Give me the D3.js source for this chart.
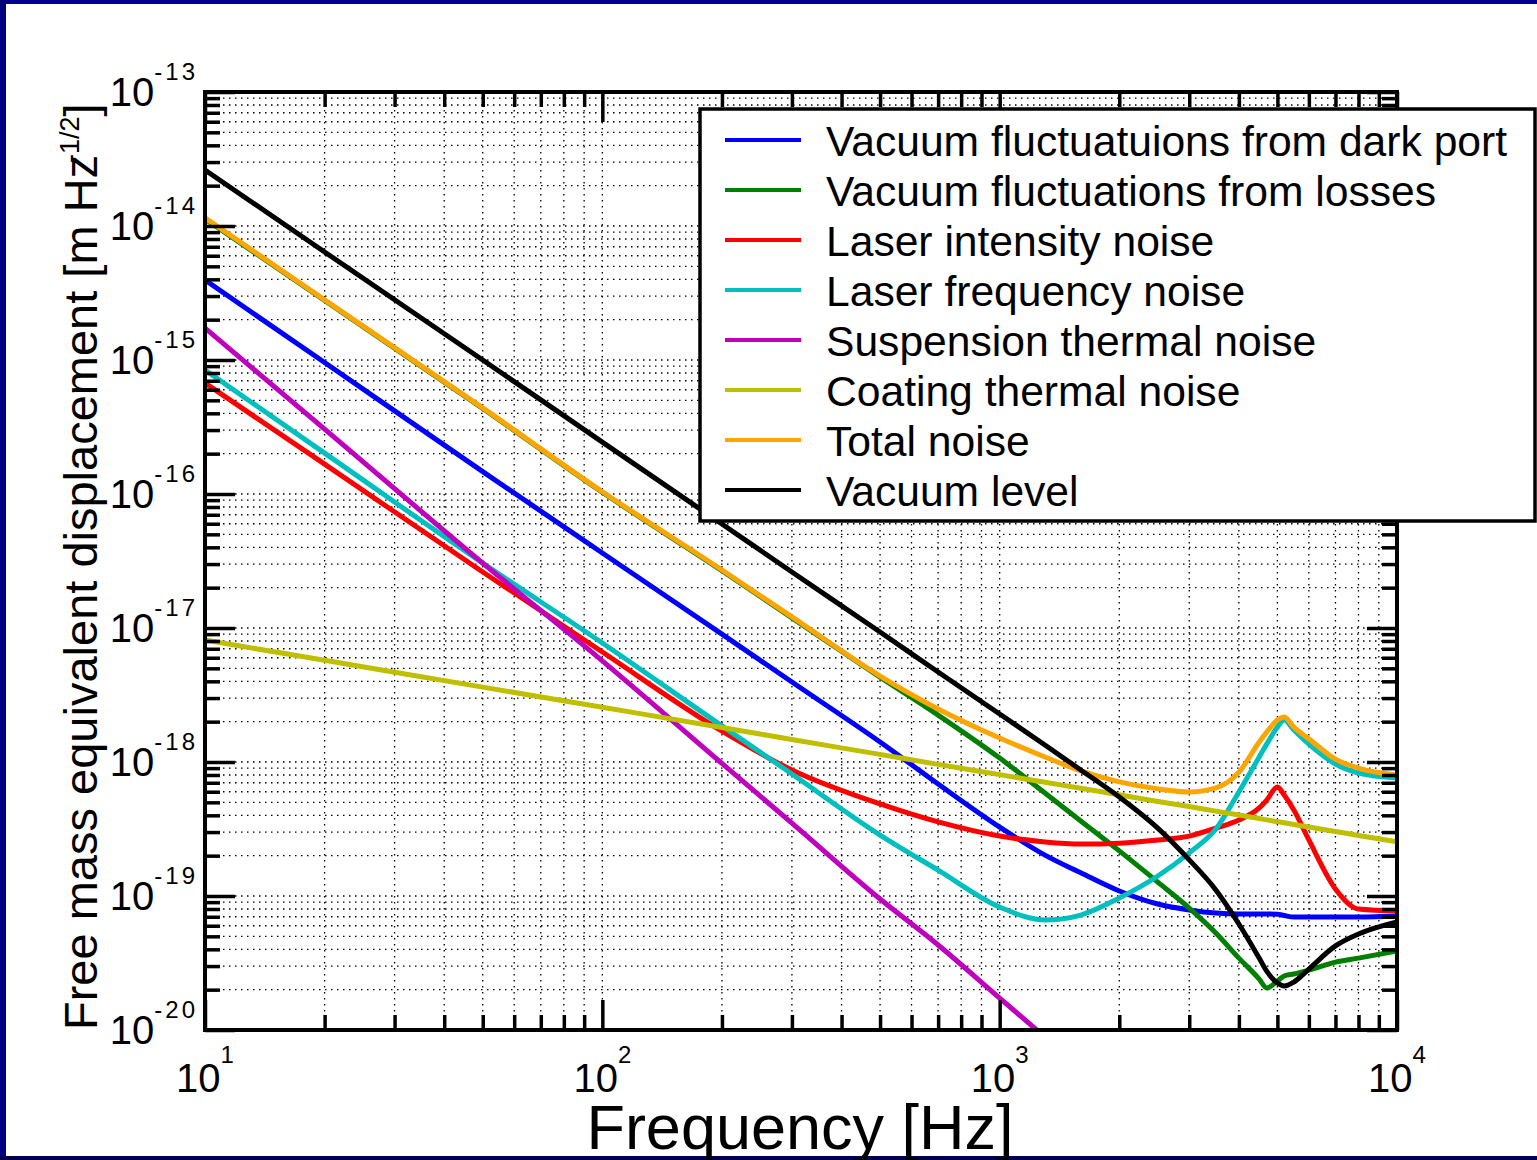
<!DOCTYPE html>
<html>
<head>
<meta charset="utf-8">
<script src="https://cdn.jsdelivr.net/npm/d3@7"></script>
<style>
  body { margin: 0; background: #fff; }
  svg { display: block; font-family: "Liberation Sans", Arial, sans-serif; }
</style>
</head>
<body>
<div id="frame"></div>
<script>
// values, displacement in m/sqrt(Hz)
let freqs = [10, 20, 50, 100, 200, 300, 500, 700, 1000, 1300, 1600, 2000, 2500, 3000, 3500, 4000, 4500, 4700, 5000, 5200, 5500, 6000, 7000, 8000, 10000];

let darkPort = [3.95e-15, 9.57e-16, 1.47e-16, 3.63e-17, 9.0e-18, 3.95e-18, 1.41e-18, 6.85e-19, 3.27e-19, 2.02e-19, 1.49e-19, 1.09e-19, 8.71e-20, 7.87e-20, 7.46e-20, 7.34e-20, 7.34e-20, 7.34e-20, 7.3e-20, 7.15e-20, 6.97e-20, 6.97e-20, 6.97e-20, 6.97e-20, 7.1e-20];
let losses = [1.13e-14, 2.78e-15, 4.35e-16, 1.03e-16, 2.68e-17, 1.19e-17, 4.3e-18, 2.24e-18, 1.07e-18, 5.87e-19, 3.63e-19, 2.17e-19, 1.27e-19, 8.13e-20, 5.3e-20, 3.44e-20, 2.4e-20, 2.06e-20, 2.32e-20, 2.53e-20, 2.62e-20, 2.8e-20, 3.21e-20, 3.44e-20, 3.89e-20];
let intensity = [6.73e-16, 1.67e-16, 2.62e-17, 6.62e-18, 1.7e-18, 8.71e-19, 4.86e-19, 3.57e-19, 2.8e-19, 2.53e-19, 2.44e-19, 2.48e-19, 2.62e-19, 2.8e-19, 3.21e-19, 3.69e-19, 4.54e-19, 5.2e-19, 6.5e-19, 5.67e-19, 4.39e-19, 2.62e-19, 1.13e-19, 8.0e-20, 7.73e-20];
let frequency = [8.41e-16, 2.02e-16, 3.05e-17, 7.73e-18, 1.86e-18, 8.13e-19, 2.85e-19, 1.56e-19, 8.28e-20, 6.62e-20, 7.21e-20, 9.66e-20, 1.41e-19, 2.1e-19, 3.16e-19, 5.97e-19, 1.09e-18, 1.36e-18, 1.82e-18, 2.06e-18, 1.73e-18, 1.36e-18, 9.66e-19, 8.28e-19, 7.6e-19];
let suspension = [1.73e-15, 3.05e-16, 3.05e-17, 5.68e-18, 9.75e-19, 3.5e-19, 9.5e-20, 4.31e-20, 1.73e-20, 8.87e-21, null, null, null, null, null, null, null, null, null, null, null, null, null, null, null];
let coating = [8.13e-18, 5.74e-18, 3.62e-18, 2.56e-18, 1.81e-18, 1.47e-18, 1.14e-18, 9.6e-19, 8.05e-19, 7.06e-19, 6.37e-19, 5.69e-19, 5.08e-19, 4.65e-19, 4.3e-19, 4.02e-19, 3.79e-19, 3.7e-19, 3.59e-19, 3.52e-19, 3.42e-19, 3.27e-19, 3.03e-19, 2.83e-19, 2.54e-19];
let total = [1.15e-14, 2.81e-15, 4.39e-16, 1.04e-16, 2.71e-17, 1.21e-17, 4.38e-18, 2.49e-18, 1.51e-18, 1.09e-18, 8.57e-19, 7.1e-19, 6.3e-19, 5.97e-19, 6.4e-19, 8.4e-19, 1.41e-18, 1.67e-18, 2.06e-18, 2.17e-18, 1.82e-18, 1.49e-18, 1.05e-18, 9.0e-19, 8.0e-19];
let vacuum = [2.62e-14, 6.4e-15, 1.0e-15, 2.44e-16, 5.97e-17, 2.62e-17, 9.33e-18, 4.7e-18, 2.28e-18, 1.34e-18, 8.71e-19, 5.48e-19, 3.21e-19, 1.86e-19, 1.11e-19, 6.18e-20, 3.44e-20, 2.75e-20, 2.24e-20, 2.13e-20, 2.28e-20, 2.85e-20, 4.24e-20, 5.2e-20, 6.4e-20];

let seriesNames = ["Vacuum fluctuatuions from dark port", "Vacuum fluctuations from losses", "Laser intensity noise", "Laser frequency noise", "Suspension thermal noise", "Coating thermal noise", "Total noise", "Vacuum level"];
let seriesValues = [darkPort, losses, intensity, frequency, suspension, coating, total, vacuum];
let seriesColors = ["#0000ff", "#008000", "#ff0000", "#00bfbf", "#bf00bf", "#bfbf00", "#ffa500", "#000000"];

let xExponents = [1, 2, 3, 4];
let yExponents = [-20, -19, -18, -17, -16, -15, -14, -13];

//Dimensions
let W = 1537, H = 1160;
let plot = { left: 205, right: 1397, top: 92, bottom: 1030 };

let svg = d3.select('#frame')
    .append('svg')
    .attr('width', W)
    .attr('height', H);

// white page with dark blue frame
svg.append('rect').attr('width', W).attr('height', H).attr('fill', '#fff');
svg.append('rect').attr('x', 0).attr('y', 0).attr('width', W).attr('height', 4).attr('fill', '#00008c');
svg.append('rect').attr('x', 0).attr('y', 0).attr('width', 6).attr('height', H).attr('fill', '#000080');
svg.append('rect').attr('x', 0).attr('y', 1156).attr('width', W).attr('height', 4).attr('fill', '#000050');

let x = d3.scaleLog().domain([10, 1e4]).range([plot.left, plot.right]);
let y = d3.scaleLog().domain([1e-20, 1e-13]).range([plot.bottom, plot.top]);

// major and minor tick positions
let xMajor = xExponents.map(e => Math.pow(10, e));
let xMinor = [];
xExponents.slice(0, -1).forEach(e => { for (let k = 2; k <= 9; k++) xMinor.push(k * Math.pow(10, e)); });
let yMajor = yExponents.map(e => Math.pow(10, e));
let yMinor = [];
yExponents.slice(0, -1).forEach(e => { for (let k = 2; k <= 9; k++) yMinor.push(k * Math.pow(10, e)); });

let pw = plot.right - plot.left, ph = plot.bottom - plot.top;

//dotted grid
let grid = svg.append('g')
    .attr('stroke', '#000')
    .attr('stroke-width', 1.3)
    .attr('stroke-dasharray', '1.5,4.5');
grid.selectAll('.gx')
    .data(xMajor.concat(xMinor))
    .enter()
    .append('line')
    .attr('x1', d => x(d)).attr('x2', d => x(d))
    .attr('y1', plot.top).attr('y2', plot.bottom);
grid.selectAll('.gy')
    .data(yMajor.concat(yMinor))
    .enter()
    .append('line')
    .attr('y1', d => y(d)).attr('y2', d => y(d))
    .attr('x1', plot.left).attr('x2', plot.right);

// curves
svg.append('clipPath').attr('id', 'clip')
    .append('rect')
    .attr('x', plot.left).attr('y', plot.top)
    .attr('width', pw).attr('height', ph);

let line = d3.line()
    .defined(d => d[1] != null)
    .x(d => x(d[0]))
    .y(d => y(d[1]))
    .curve(d3.curveMonotoneX);

svg.append('g')
    .attr('clip-path', 'url(#clip)')
    .selectAll('path')
    .data(seriesValues)
    .enter()
    .append('path')
    .attr('d', vals => line(freqs.map((f, i) => [f, vals[i]])))
    .attr('fill', 'none')
    .attr('stroke', (v, i) => seriesColors[i])
    .attr('stroke-width', 5)
    .attr('stroke-linejoin', 'round');

// inward ticks on every side
function ticks(axis, values, size) {
    return axis.tickValues(values).tickSize(size).tickFormat('');
}
[[xMinor, 15], [xMajor, 30]].forEach(([vals, len]) => {
    svg.append('g').attr('class', 'tk').attr('transform', 'translate(0,' + plot.bottom + ')').call(ticks(d3.axisBottom(x), vals, -len));
    svg.append('g').attr('class', 'tk').attr('transform', 'translate(0,' + plot.top + ')').call(ticks(d3.axisTop(x), vals, -len));
});
[[yMinor, 15], [yMajor, 30]].forEach(([vals, len]) => {
    svg.append('g').attr('class', 'tk').attr('transform', 'translate(' + plot.left + ',0)').call(ticks(d3.axisLeft(y), vals, -len));
    svg.append('g').attr('class', 'tk').attr('transform', 'translate(' + plot.right + ',0)').call(ticks(d3.axisRight(y), vals, -len));
});
svg.selectAll('.tk .domain').remove();
svg.selectAll('.tk line').attr('stroke', '#000').attr('stroke-width', 3.5);

svg.append('rect')
    .attr('x', plot.left).attr('y', plot.top)
    .attr('width', pw).attr('height', ph)
    .attr('fill', 'none')
    .attr('stroke', '#000')
    .attr('stroke-width', 4);

// tick labels 10^n
let xl = svg.append('g').selectAll('text')
    .data(xExponents)
    .enter()
    .append('text')
    .attr('x', e => x(Math.pow(10, e)))
    .attr('y', 1092)
    .attr('text-anchor', 'middle')
    .attr('font-size', 40);
xl.append('tspan').text('10');
xl.append('tspan').attr('dy', -29).attr('font-size', 24).text(e => e);

let yl = svg.append('g').selectAll('text')
    .data(yExponents)
    .enter()
    .append('text')
    .attr('x', 198)
    .attr('y', e => y(Math.pow(10, e)) + 14)
    .attr('text-anchor', 'end')
    .attr('font-size', 40);
yl.append('tspan').text('10');
yl.append('tspan').attr('dy', -26).attr('font-size', 24).attr('letter-spacing', 3).text(e => e);

// axis titles
svg.append('text')
    .attr('x', 800)
    .attr('y', 1149)
    .attr('text-anchor', 'middle')
    .attr('font-size', 63)
    .text('Frequency [Hz]');

let yt = svg.append('text')
    .attr('transform', 'translate(97,' + plot.bottom + ') rotate(-90)')
    .attr('text-anchor', 'start')
    .attr('font-size', 47);
yt.append('tspan').text('Free mass equivalent displacement [m Hz');
yt.append('tspan').attr('dy', -18).attr('dx', -8).attr('font-size', 27).text('-1/2');
yt.append('tspan').attr('dy', 18).text(']');

// legend
let legend = svg.append('g');
legend.append('rect')
    .attr('x', 700).attr('y', 109)
    .attr('width', 835).attr('height', 412)
    .attr('fill', '#fff')
    .attr('stroke', '#000')
    .attr('stroke-width', 3.5);
let rows = legend.selectAll('.row')
    .data(seriesNames)
    .enter()
    .append('g')
    .attr('transform', (d, i) => 'translate(0,' + (140 + i * 50) + ')');
rows.append('line')
    .attr('x1', 725).attr('x2', 801)
    .attr('stroke', (d, i) => seriesColors[i])
    .attr('stroke-width', 4);
rows.append('text')
    .attr('x', 826)
    .attr('y', 16)
    .attr('font-size', 42.6)
    .text(d => d);
</script>
</body>
</html>
